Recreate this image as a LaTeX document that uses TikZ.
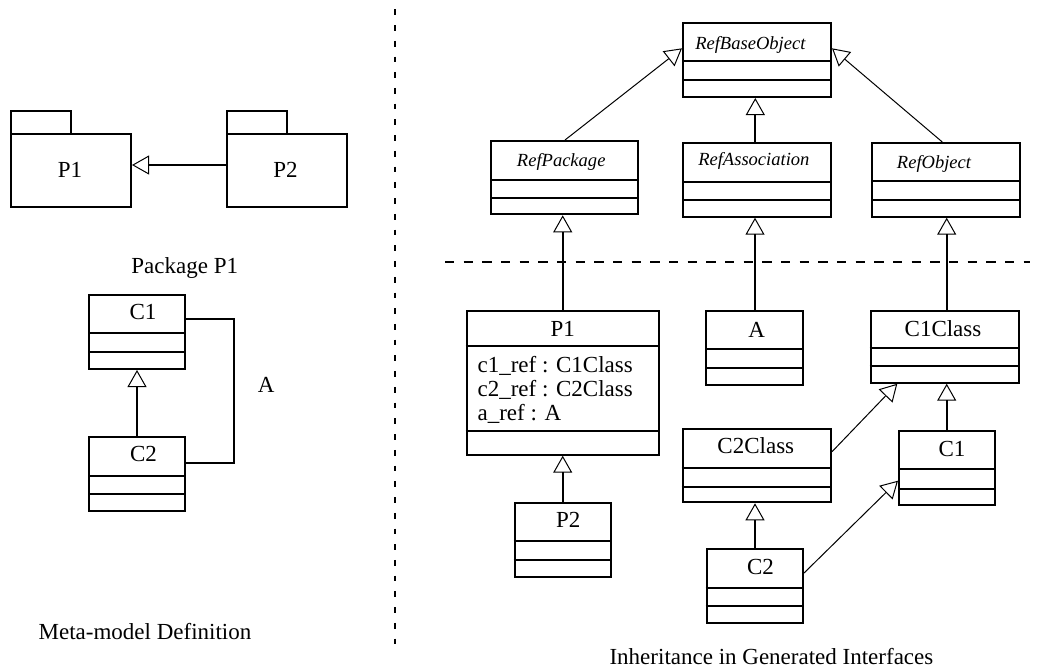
\documentclass[tikz,border=0pt]{standalone}
\usepackage{fontspec}
\setmainfont{Liberation Serif}
\usetikzlibrary{arrows.meta,fit}
\tikzset{
  box/.style={draw, line width=1.5pt, inner sep=0pt, rectangle},
  sep/.style={line width=1.5pt},
  txt/.style={inner sep=0pt, anchor=base, font=\fontsize{17.25pt}{20pt}\selectfont},
  txtl/.style={txt, anchor=base west},
  ital/.style={inner sep=0pt, anchor=base west, font=\fontsize{13.9pt}{16pt}\selectfont\itshape},
  gentip/.style={-{Triangle[open,length=12.75pt,width=14.25pt,line width=0.75pt]}},
  gen/.style={gentip, line width=1.5pt},
  gent/.style={gentip, line width=0.75pt},
  assoc/.style={line width=1.5pt},
  vdash/.style={line width=1.5pt, dash pattern=on 4.3pt off 7.5pt},
  hdash/.style={line width=1.5pt, dash pattern=on 7pt off 7pt},
}
\begin{document}
\begin{tikzpicture}[x=0.75pt, y=-0.75pt]
\useasboundingbox (0,0) rectangle (1038,669);

% ---------- left: meta-model definition ----------
\node (pk1tab) [box, fit={(11,110.7) (71,134.3)}] {};
\node (pk1) [box, fit={(11,134.3) (131,206.7)}] {};
\node (pk1t) [txt] at (70,177.5) {P1};
\node (pk2tab) [box, fit={(226.7,110.7) (286.7,134.3)}] {};
\node (pk2) [box, fit={(226.7,134.3) (347.3,206.7)}] {};
\node (pk2t) [txt] at (285.5,177.5) {P2};
\draw[gen] (pk2.west |- 0,165) -- (pk1.east |- 0,165);
\node (pkl) [txt] at (184.7,273.3) {Package P1};

\node (lc1) [box, fit={(89,295) (185,369)}] {};
\draw[sep] (lc1.west |- 0,333.3) -- (lc1.east |- 0,333.3);
\draw[sep] (lc1.west |- 0,351.7) -- (lc1.east |- 0,351.7);
\node (lc1t) [txt] at (143,319.3) {C1};
\node (lc2) [box, fit={(89,436.7) (185,510.7)}] {};
\draw[sep] (lc2.west |- 0,476) -- (lc2.east |- 0,476);
\draw[sep] (lc2.west |- 0,494) -- (lc2.east |- 0,494);
\node (lc2t) [txt] at (143.5,461.7) {C2};
\draw[gen] (lc2.north) -- (lc1.south);
\draw[assoc] (lc1.east |- 0,319) -- ++(47.7,0) |- (lc2.east |- 0,462.7);
\node (la) [txt] at (266.2,392.3) {A};
\node (mmd) [txt] at (145,639) {Meta-model Definition};

% ---------- separators ----------
\coordinate (vtop) at (395,9.3);
\coordinate (vbot) at (395,648);
\draw[vdash] (vtop) -- (vbot);
\coordinate (hl) at (445,262.3);
\coordinate (hr) at (1030,262.3);
\draw[hdash] (hl) -- (hr);

% ---------- right: reflective base interfaces ----------
\node (rbo) [box, fit={(683,23.3) (831,97)}] {};
\draw[sep] (rbo.west |- 0,61) -- (rbo.east |- 0,61);
\draw[sep] (rbo.west |- 0,80.3) -- (rbo.east |- 0,80.3);
\node (rbot) [ital] at (695,49) {RefBaseObject};

\node (rpk) [box, fit={(491,141) (638.3,214.3)}] {};
\draw[sep] (rpk.west |- 0,180) -- (rpk.east |- 0,180);
\draw[sep] (rpk.west |- 0,197.7) -- (rpk.east |- 0,197.7);
\node (rpkt) [ital] at (516.7,166.7) {RefPackage};

\node (ras) [box, fit={(683,143) (831,216.7)}] {};
\draw[sep] (ras.west |- 0,181.7) -- (ras.east |- 0,181.7);
\draw[sep] (ras.west |- 0,200) -- (ras.east |- 0,200);
\node (rast) [ital] at (698,165) {RefAssociation};

\node (rob) [box, fit={(872.3,143) (1020,216.7)}] {};
\draw[sep] (rob.west |- 0,181.3) -- (rob.east |- 0,181.3);
\draw[sep] (rob.west |- 0,200) -- (rob.east |- 0,200);
\node (robt) [ital] at (896.7,168.3) {RefObject};

\draw[gent] (rpk.north -| 565,0) -- (rbo.west |- 0,48.3);
\draw[gen] (ras.north -| 755.3,0) -- (rbo.south -| 755.3,0);
\draw[gent] (rob.north -| 942.3,0) -- (rbo.east |- 0,48.3);

% ---------- right: generated interfaces ----------
\node (p1r) [box, fit={(466.7,310.7) (659,454.7)}] {};
\draw[sep] (p1r.west |- 0,345.7) -- (p1r.east |- 0,345.7);
\draw[sep] (p1r.west |- 0,431) -- (p1r.east |- 0,431);
\node (p1rt) [txt] at (562.7,336.8) {P1};
\node (p1ra) [txtl] at (477.3,372.7) {c1\_ref : C1Class};
\node (p1rb) [txtl] at (477.3,396.7) {c2\_ref : C2Class};
\node (p1rc) [txtl] at (477.3,420.5) {a\_ref : A};

\node (ar) [box, fit={(706,310.7) (803.3,385)}] {};
\draw[sep] (ar.west |- 0,349.3) -- (ar.east |- 0,349.3);
\draw[sep] (ar.west |- 0,368) -- (ar.east |- 0,368);
\node (art) [txt] at (756.7,337) {A};

\node (c1c) [box, fit={(870.7,310.7) (1019,382.7)}] {};
\draw[sep] (c1c.west |- 0,347.7) -- (c1c.east |- 0,347.7);
\draw[sep] (c1c.west |- 0,366) -- (c1c.east |- 0,366);
\node (c1ct) [txt] at (943,336) {C1Class};

\node (c2c) [box, fit={(682.7,429.3) (831,502.3)}] {};
\draw[sep] (c2c.west |- 0,468.3) -- (c2c.east |- 0,468.3);
\draw[sep] (c2c.west |- 0,486.7) -- (c2c.east |- 0,486.7);
\node (c2ct) [txt] at (755.8,453) {C2Class};

\node (c1r) [box, fit={(899,431) (994.7,505)}] {};
\draw[sep] (c1r.west |- 0,469.3) -- (c1r.east |- 0,469.3);
\draw[sep] (c1r.west |- 0,488.7) -- (c1r.east |- 0,488.7);
\node (c1rt) [txt] at (952,456) {C1};

\node (p2r) [box, fit={(514.7,502.7) (611,576.7)}] {};
\draw[sep] (p2r.west |- 0,540.7) -- (p2r.east |- 0,540.7);
\draw[sep] (p2r.west |- 0,560) -- (p2r.east |- 0,560);
\node (p2rt) [txt] at (568.3,527.5) {P2};

\node (c2r) [box, fit={(706.7,549) (802.7,623.3)}] {};
\draw[sep] (c2r.west |- 0,587.7) -- (c2r.east |- 0,587.7);
\draw[sep] (c2r.west |- 0,606) -- (c2r.east |- 0,606);
\node (c2rt) [txt] at (760.5,574) {C2};

\draw[gen] (p1r.north -| 562.7,0) -- (rpk.south -| 562.7,0);
\draw[gen] (ar.north -| 755,0) -- (ras.south -| 755,0);
\draw[gen] (c1c.north -| 946.7,0) -- (rob.south -| 946.7,0);
\draw[gen] (p2r.north -| 562.7,0) -- (p1r.south -| 562.7,0);
\draw[gen] (c1r.north -| 946.7,0) -- (c1c.south -| 946.7,0);
\draw[gen] (c2r.north -| 755,0) -- (c2c.south -| 755,0);
\draw[gent] (c2c.east |- 0,451.7) -- (c1c.south -| 897.3,0);
\draw[gent] (c2r.east |- 0,573.3) -- (c1r.west |- 0,480.7);

\node (igi) [txtl] at (609.3,664.3) {Inheritance in Generated Interfaces};
\end{tikzpicture}
\end{document}
